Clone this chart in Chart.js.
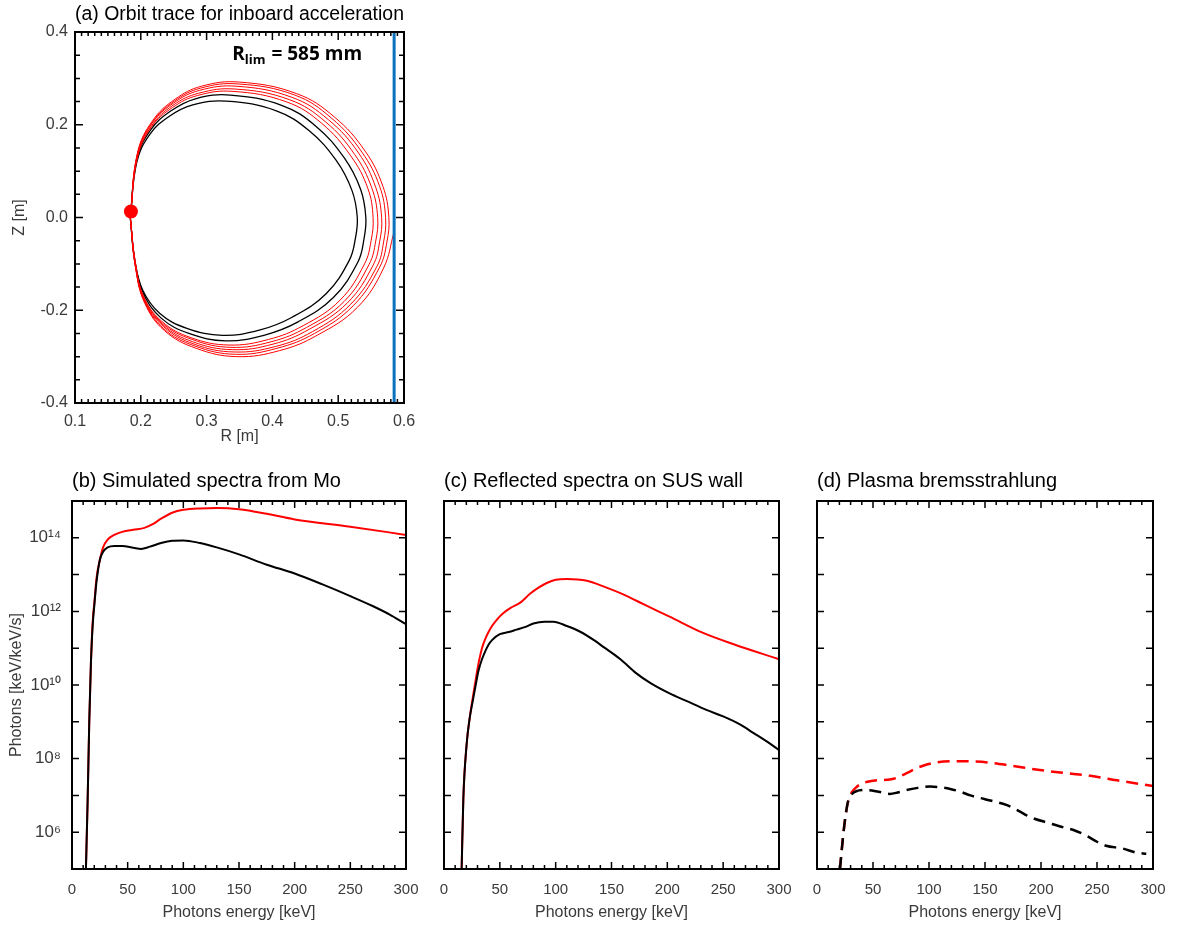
<!DOCTYPE html>
<html>
<head>
<meta charset="utf-8">
<script src="https://cdn.jsdelivr.net/npm/chart.js@4.4.1/dist/chart.umd.min.js"></script>
<style>
  html, body { margin: 0; padding: 0; background: #fff; }
  #fig { position: relative; width: 1179px; height: 925px; }
  #fig canvas { position: absolute; left: 0; top: 0; pointer-events: none; }
</style>
</head>
<body>
<div id="fig">
  <canvas id="panelA" width="1179" height="925"></canvas>
  <canvas id="panelB" width="1179" height="925"></canvas>
  <canvas id="panelC" width="1179" height="925"></canvas>
  <canvas id="panelD" width="1179" height="925"></canvas>
</div>
<script>
// ---------- (a) orbit trace, [R, Z] in metres ----------
const rTicks = [0.1, 0.2, 0.3, 0.4, 0.5, 0.6];
const zTicks = [-0.4, -0.2, 0.0, 0.2, 0.4];
const limiterR = 0.585;
const startPoint = [0.185, 0.013];

const blackLoop1 = [[0.184,0.000],[0.194,0.120],[0.214,0.180],[0.244,0.219],[0.279,0.243],[0.330,0.251],[0.406,0.230],[0.456,0.187],[0.497,0.123],[0.521,0.058],[0.529,0.000],[0.526,-0.046],[0.517,-0.092],[0.482,-0.164],[0.430,-0.215],[0.380,-0.243],[0.324,-0.254],[0.270,-0.239],[0.229,-0.207],[0.203,-0.157],[0.191,-0.092],[0.184,0.000]];
const blackLoop2 = [[0.184,0.000],[0.194,0.126],[0.215,0.189],[0.246,0.230],[0.283,0.256],[0.336,0.264],[0.414,0.242],[0.466,0.197],[0.509,0.129],[0.534,0.061],[0.542,0.000],[0.539,-0.048],[0.530,-0.096],[0.493,-0.172],[0.439,-0.225],[0.387,-0.254],[0.329,-0.266],[0.273,-0.250],[0.231,-0.217],[0.204,-0.164],[0.191,-0.096],[0.184,0.000]];
const redLoop1 = [[0.184,0.000],[0.195,0.130],[0.216,0.195],[0.248,0.237],[0.286,0.263],[0.340,0.272],[0.422,0.249],[0.475,0.203],[0.519,0.133],[0.545,0.063],[0.553,0.000],[0.550,-0.050],[0.540,-0.100],[0.503,-0.178],[0.447,-0.233],[0.394,-0.263],[0.334,-0.275],[0.276,-0.259],[0.232,-0.224],[0.204,-0.170],[0.192,-0.100],[0.184,0.000]];
const redLoop2 = [[0.184,0.000],[0.195,0.132],[0.217,0.199],[0.249,0.242],[0.288,0.268],[0.343,0.277],[0.426,0.254],[0.481,0.206],[0.525,0.136],[0.551,0.064],[0.560,0.000],[0.557,-0.051],[0.547,-0.101],[0.509,-0.181],[0.452,-0.237],[0.398,-0.268],[0.337,-0.280],[0.278,-0.263],[0.233,-0.228],[0.205,-0.173],[0.192,-0.101],[0.184,0.000]];
const redLoop3 = [[0.184,0.000],[0.195,0.135],[0.217,0.203],[0.250,0.247],[0.289,0.274],[0.346,0.283],[0.430,0.259],[0.485,0.211],[0.531,0.139],[0.557,0.065],[0.566,0.000],[0.563,-0.052],[0.553,-0.103],[0.514,-0.184],[0.456,-0.241],[0.401,-0.273],[0.339,-0.285],[0.279,-0.268],[0.234,-0.232],[0.205,-0.176],[0.192,-0.103],[0.184,0.000]];
const redLoop4 = [[0.184,0.000],[0.195,0.138],[0.218,0.206],[0.251,0.251],[0.291,0.279],[0.348,0.288],[0.434,0.264],[0.490,0.214],[0.536,0.141],[0.563,0.067],[0.572,0.000],[0.569,-0.053],[0.559,-0.105],[0.519,-0.187],[0.461,-0.246],[0.405,-0.278],[0.342,-0.290],[0.281,-0.273],[0.235,-0.236],[0.205,-0.179],[0.192,-0.105],[0.184,0.000]];
const redLoop5 = [[0.184,0.000],[0.195,0.140],[0.218,0.209],[0.252,0.255],[0.292,0.283],[0.350,0.292],[0.437,0.267],[0.494,0.217],[0.541,0.143],[0.568,0.067],[0.577,0.000],[0.574,-0.053],[0.563,-0.107],[0.523,-0.190],[0.464,-0.250],[0.407,-0.282],[0.344,-0.295],[0.282,-0.277],[0.235,-0.240],[0.206,-0.182],[0.192,-0.107],[0.184,0.000]];
const redLoop6 = [[0.184,0.000],[0.192,-0.109],[0.206,-0.185],[0.236,-0.244],[0.284,-0.282],[0.346,-0.300],[0.411,-0.287],[0.468,-0.254],[0.529,-0.194],[0.569,-0.109],[0.585,-0.030]];

// ---------- (b)-(d) spectra: photon energy [keV] and photons [keV/keV/s] ----------
const energyTicks = [0, 50, 100, 150, 200, 250, 300];
const fluxTickExponents = [6, 8, 10, 12, 14];

const moEnergyRed = [12.5,14,15.5,17,18,19,20,22,25,28,32,38,45,55,65,72,80,90,100,115,130,150,175,200,250,300];
const moFluxRed = [1e5,6.3e6,1e9,4.0e10,2.5e11,7.9e11,1.6e12,7.9e12,2.5e13,5.6e13,8.9e13,1.2e14,1.45e14,1.66e14,1.86e14,2.3e14,3.3e14,4.8e14,5.75e14,6.3e14,6.45e14,6.0e14,4.5e14,3.16e14,2.0e14,1.2e14];
const moEnergyBlack = [12.5,14,15.5,17,18,19,20,22,25,28,32,38,45,55,62,70,80,90,100,115,130,150,175,200,225,250,270,285,300];
const moFluxBlack = [1e5,6.3e6,1e9,4.0e10,2.0e11,6.3e11,1.4e12,6.3e12,2.5e13,4.2e13,5.5e13,6.0e13,6.0e13,5.4e13,5.0e13,5.75e13,7.2e13,8.3e13,8.5e13,7.2e13,5.5e13,3.55e13,1.86e13,1.07e13,5.4e12,2.6e12,1.4e12,8.3e11,4.5e11];

const susEnergyRed = [15.8,17.3,20.3,23,26,29,31,34,37,40,43,48,53,60,68,77,85,92,100,110,128,145,160,180,202,232,260,300];
const susFluxRed = [1e5,7.9e6,2.5e8,1.26e9,5.0e9,1.8e10,4.0e10,1.0e11,1.8e11,2.8e11,4.0e11,6.3e11,8.9e11,1.26e12,1.7e12,3.0e12,4.5e12,5.9e12,7.2e12,7.6e12,6.8e12,4.5e12,2.95e12,1.5e12,7.2e11,2.6e11,1.26e11,5.0e10];
const susEnergyBlack = [15.8,17.3,20.3,23,26,29,31,34,37,40,43,50,58,65,73,80,90,98,110,122,135,143,158,172,185,202,217,235,250,265,277,290,300];
const susFluxBlack = [1e5,7.9e6,2.5e8,1.26e9,4.0e9,1.26e10,2.5e10,5.0e10,8.3e10,1.26e11,1.66e11,2.4e11,2.75e11,3.2e11,3.8e11,4.7e11,5.25e11,5.25e11,4.0e11,2.8e11,1.6e11,1.07e11,5.0e10,2.1e10,1.12e10,5.9e9,3.7e9,2.1e9,1.4e9,8.5e8,5.0e8,2.8e8,1.7e8];

const bremsEnergyRed = [20.5,23.5,26,28,31,35,40,44,55,65,71,80,89,98,107,128,154,175,199,220,244,270,300];
const bremsFluxRed = [1e5,8.9e5,3.55e6,7.4e6,1.2e7,1.66e7,2.1e7,2.3e7,2.6e7,2.7e7,3.0e7,4.0e7,5.5e7,6.9e7,7.9e7,8.5e7,7.8e7,6.3e7,4.9e7,4.1e7,3.4e7,2.5e7,1.8e7];
const bremsEnergyBlack = [20.5,23.5,26,28,31,35,44,55,65,72,80,90,101,110,119,128,137,150,169,180,190,208,220,229,241,250,258,273,285,294];
const bremsFluxBlack = [1e5,8.9e5,3.55e6,7.4e6,1.07e7,1.3e7,1.4e7,1.26e7,1.1e7,1.2e7,1.4e7,1.6e7,1.74e7,1.66e7,1.5e7,1.26e7,1.0e7,7.9e6,5.5e6,3.8e6,2.6e6,1.74e6,1.35e6,1.15e6,7.9e5,5.5e5,4.3e5,3.6e5,2.8e5,2.6e5];

// ---------- helpers ----------
Chart.defaults.font.family = '"Liberation Sans", Arial, Helvetica, sans-serif';
Chart.defaults.color = '#3a3a3a';

const RED = '#ff0000';
const BLACK = '#000000';
const SUP = {'0':'\u2070','1':'\u00b9','2':'\u00b2','3':'\u00b3','4':'\u2074','5':'\u2075','6':'\u2076','7':'\u2077','8':'\u2078','9':'\u2079'};
const powerLabel = v => '10' + String(Math.round(Math.log10(v))).split('').map(c => SUP[c]).join('');
const xyFrom = (xs, ys) => xs.map((x, i) => ({x, y: ys[i]}));
const fromPairs = pts => pts.map(([x, y]) => ({x, y}));

// Box frame with inward tick marks on all four sides
const frameTicks = {
  id: 'frameTicks',
  afterDatasetsDraw(chart, args, o) {
    const {ctx, chartArea: a} = chart;
    const sx = chart.scales.x, sy = chart.scales.y;
    ctx.save();
    ctx.strokeStyle = '#000';
    ctx.lineWidth = 1.5;
    ctx.beginPath();
    const xTick = (v, len) => {
      const p = sx.getPixelForValue(v);
      ctx.moveTo(p, a.bottom); ctx.lineTo(p, a.bottom - len);
      ctx.moveTo(p, a.top); ctx.lineTo(p, a.top + len);
    };
    const yTick = (v, len) => {
      const p = sy.getPixelForValue(v);
      ctx.moveTo(a.left, p); ctx.lineTo(a.left + len, p);
      ctx.moveTo(a.right, p); ctx.lineTo(a.right - len, p);
    };
    const nx = Math.round((o.xMax - o.xMin) / o.xMinor);
    const xEvery = Math.round(o.xMajor / o.xMinor);
    for (let i = 0; i <= nx; i++) {
      xTick(o.xMin + i * o.xMinor, i % xEvery === 0 ? o.majorLen : o.minorLen);
    }
    if (o.yLog) {
      for (let e = o.yMinExp; e <= o.yMaxExp; e++) yTick(Math.pow(10, e), o.majorLen);
    } else {
      const ny = Math.round((o.yMax - o.yMin) / o.yMinor);
      const yEvery = Math.round(o.yMajor / o.yMinor);
      for (let i = 0; i <= ny; i++) {
        yTick(o.yMin + i * o.yMinor, i % yEvery === 0 ? o.majorLen : o.yMinorLen);
      }
    }
    ctx.stroke();
    ctx.lineWidth = 2;
    ctx.strokeRect(a.left, a.top, a.right - a.left, a.bottom - a.top);
    ctx.restore();
  }
};

// Limiter annotation "R_lim = 585 mm"
const limiterLabel = {
  id: 'limiterLabel',
  afterDatasetsDraw(chart) {
    const {ctx} = chart;
    const x = chart.scales.x.getPixelForValue(0.339);
    const y = chart.scales.y.getPixelForValue(0.34);
    ctx.save();
    ctx.fillStyle = '#000';
    ctx.textBaseline = 'alphabetic';
    ctx.textAlign = 'left';
    const big = 'bold 19px "Open Sans", "Liberation Sans", sans-serif';
    const small = 'bold 13px "Open Sans", "Liberation Sans", sans-serif';
    ctx.font = big;
    ctx.fillText('R', x, y);
    const w1 = ctx.measureText('R').width;
    ctx.font = small;
    ctx.fillText('lim', x + w1, y + 4);
    const w2 = ctx.measureText('lim').width;
    ctx.font = big;
    ctx.fillText(' = ' + Math.round(limiterR * 1000) + ' mm', x + w1 + w2 + 1, y);
    ctx.restore();
  }
};

const baseOptions = (padding, title, titlePad) => ({
  responsive: false,
  animation: false,
  devicePixelRatio: 1,
  events: [],
  layout: {padding, autoPadding: false},
  plugins: {
    legend: {display: false},
    tooltip: {enabled: false},
    title: {
      display: true, text: title, align: 'start', fullSize: false, color: '#000',
      font: {size: 20, weight: 'normal'}, padding: {top: 0, bottom: titlePad}
    }
  }
});

// ---------- (a) ----------
const orbitLine = (pts, color, width) => ({
  data: fromPairs(pts), showLine: true, borderColor: color, borderWidth: width,
  pointRadius: 0, tension: 0.4, fill: false
});

const optsA = baseOptions({left: 5, right: 775, top: 2, bottom: 477}, '(a) Orbit trace for inboard acceleration', 6);
optsA.scales = {
  x: {
    type: 'linear', min: rTicks[0], max: rTicks[rTicks.length - 1],
    afterBuildTicks: s => { s.ticks = rTicks.map(v => ({value: v})); },
    afterFit: s => { s.height = 45; },
    ticks: {callback: v => v.toFixed(1), font: {size: 16}, padding: 9, maxRotation: 0, autoSkip: false},
    grid: {display: false, drawTicks: false, tickLength: 0},
    border: {display: false},
    title: {display: true, text: 'R [m]', font: {size: 16}, color: '#3a3a3a', padding: {top: 0, bottom: 2}}
  },
  y: {
    type: 'linear', min: zTicks[0], max: zTicks[zTicks.length - 1],
    afterBuildTicks: s => { s.ticks = zTicks.map(v => ({value: v})); },
    afterFit: s => { s.width = 70; },
    ticks: {callback: v => v.toFixed(1), font: {size: 16}, padding: 7, autoSkip: false},
    grid: {display: false, drawTicks: false, tickLength: 0},
    border: {display: false},
    title: {display: true, text: 'Z [m]', font: {size: 16}, color: '#3a3a3a', padding: {top: 5, bottom: 0}}
  }
};
optsA.plugins.frameTicks = {
  xMin: 0.1, xMax: 0.6, xMajor: 0.1, xMinor: 0.01,
  yMin: -0.4, yMax: 0.4, yMajor: 0.2, yMinor: 0.05,
  majorLen: 8, minorLen: 4, yMinorLen: 5
};

new Chart(document.getElementById('panelA'), {
  type: 'scatter',
  data: {
    datasets: [
      {data: fromPairs([[limiterR, zTicks[0]], [limiterR, zTicks[zTicks.length - 1]]]), showLine: true,
       borderColor: '#0a72bd', borderWidth: 3, pointRadius: 0},
      {data: fromPairs([startPoint]), pointRadius: 7, backgroundColor: RED, borderColor: RED, borderWidth: 0},
      orbitLine(redLoop6, RED, 1),
      orbitLine(redLoop5, RED, 1),
      orbitLine(redLoop4, RED, 1),
      orbitLine(redLoop3, RED, 1),
      orbitLine(redLoop2, RED, 1),
      orbitLine(redLoop1, RED, 1),
      orbitLine(blackLoop2, BLACK, 1.3),
      orbitLine(blackLoop1, BLACK, 1.3)
    ]
  },
  options: optsA,
  plugins: [frameTicks, limiterLabel]
});

// ---------- (b)-(d) ----------
function spectraChart(canvasId, cfg) {
  const opts = baseOptions(cfg.padding, cfg.title, 8);
  opts.scales = {
    x: {
      type: 'linear', min: energyTicks[0], max: energyTicks[energyTicks.length - 1],
      afterBuildTicks: s => { s.ticks = energyTicks.map(v => ({value: v})); },
      afterFit: s => { s.height = 53; },
      ticks: {font: {size: 15}, padding: 12, maxRotation: 0, autoSkip: false},
      grid: {display: false, drawTicks: false, tickLength: 0},
      border: {display: false},
      title: {display: true, text: 'Photons energy [keV]', font: {size: 16}, color: '#3a3a3a', padding: {top: 0, bottom: 0}}
    },
    y: {
      type: 'logarithmic', min: 1e5, max: 1e15,
      afterBuildTicks: s => { s.ticks = fluxTickExponents.map(e => ({value: Math.pow(10, e)})); },
      afterFit: s => { s.width = cfg.yWidth; },
      ticks: {display: cfg.yLabels, callback: powerLabel, font: {size: 17}, padding: 11, autoSkip: false},
      grid: {display: false, drawTicks: false, tickLength: 0},
      border: {display: false},
      title: {display: cfg.yLabels, text: 'Photons [keV/keV/s]', font: {size: 16}, color: '#3a3a3a', padding: {top: 2, bottom: 0}}
    }
  };
  opts.plugins.frameTicks = {
    xMin: 0, xMax: 300, xMajor: 50, xMinor: 10,
    yLog: true, yMinExp: 5, yMaxExp: 15,
    majorLen: 7, minorLen: 4
  };
  const line = (xs, ys, color) => ({
    data: xyFrom(xs, ys), showLine: true, borderColor: color, borderWidth: cfg.width,
    borderDash: cfg.dash, pointRadius: 0, cubicInterpolationMode: 'monotone', fill: false
  });
  new Chart(document.getElementById(canvasId), {
    type: 'scatter',
    data: {datasets: [line(cfg.blackE, cfg.blackF, BLACK), line(cfg.redE, cfg.redF, RED)]},
    options: opts,
    plugins: [frameTicks]
  });
}

spectraChart('panelB', {
  title: '(b) Simulated spectra from Mo',
  padding: {left: 5, right: 773, top: 469, bottom: 3}, yWidth: 67, yLabels: true,
  redE: moEnergyRed, redF: moFluxRed, blackE: moEnergyBlack, blackF: moFluxBlack,
  width: 2, dash: []
});
spectraChart('panelC', {
  title: '(c) Reflected spectra on SUS wall',
  padding: {left: 434, right: 400, top: 469, bottom: 3}, yWidth: 10, yLabels: false,
  redE: susEnergyRed, redF: susFluxRed, blackE: susEnergyBlack, blackF: susFluxBlack,
  width: 2, dash: []
});
spectraChart('panelD', {
  title: '(d) Plasma bremsstrahlung',
  padding: {left: 807, right: 26, top: 469, bottom: 3}, yWidth: 10, yLabels: false,
  redE: bremsEnergyRed, redF: bremsFluxRed, blackE: bremsEnergyBlack, blackF: bremsFluxBlack,
  width: 2.5, dash: [12, 7]
});
</script>
</body>
</html>
